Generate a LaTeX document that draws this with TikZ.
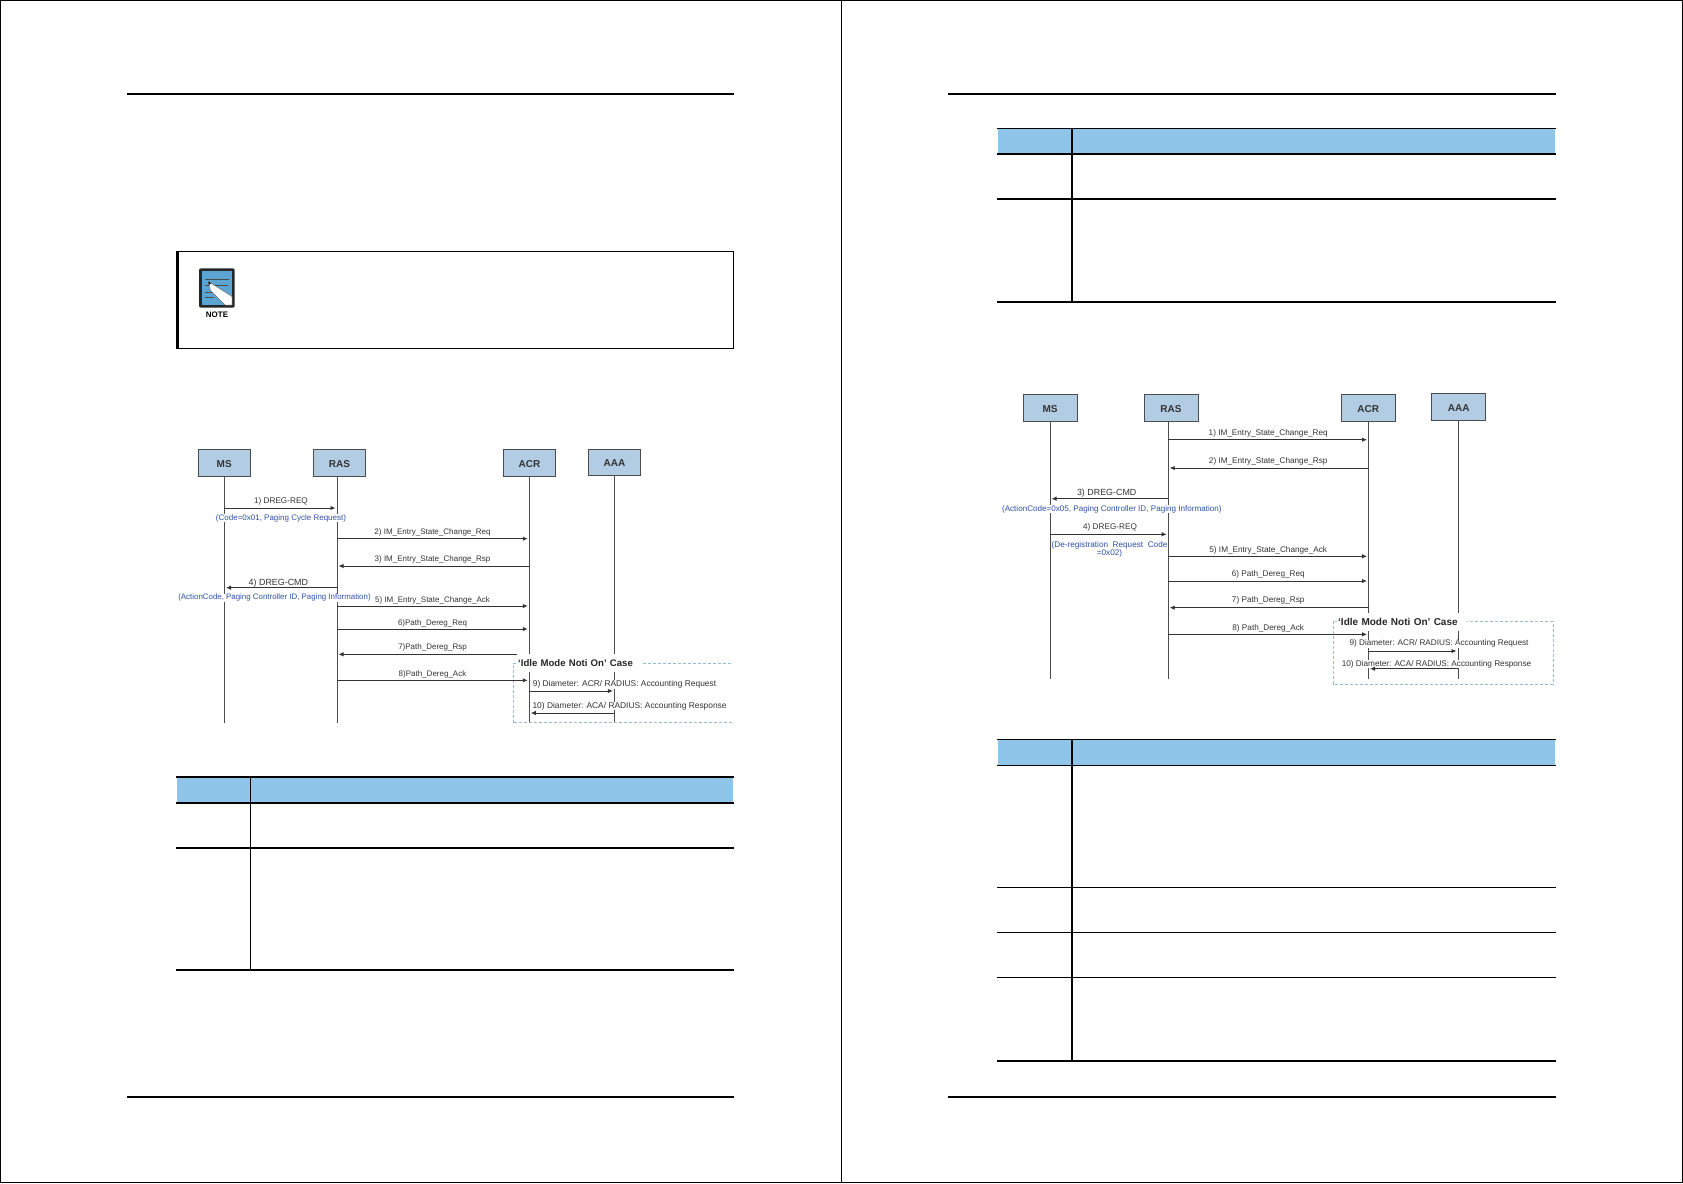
\documentclass[tikz,border=0pt]{standalone}
\usepackage{fontspec}
\setmainfont{Liberation Sans}
\usepackage{xcolor}
\usetikzlibrary{arrows.meta}
\definecolor{boxblue}{HTML}{B2CCE4}
\definecolor{headblue}{HTML}{90C5EA}
\definecolor{noteblue}{HTML}{5CA5D2}
\definecolor{infoblue}{HTML}{2F52A8}
\definecolor{dashblue}{HTML}{94BCD8}
\newcommand{\fs}[1]{\fontsize{#1}{#1}\selectfont}

\begin{document}
\begin{tikzpicture}[
  x=1pt, y=-1pt,
  actor/.style={draw=black!70, fill=boxblue, line width=1pt, minimum width=52pt,
    minimum height=26.5pt, inner sep=0pt, text height=8.6pt, text depth=0pt,
    font=\fs{10}\bfseries, text=black!80},
  life/.style={draw=black!70, line width=1pt},
  msg/.style={draw=black!80, line width=0.9pt, shorten >=1.5pt,
    -{Latex[length=5pt,width=4.5pt]}},
  lbl/.style={inner sep=0.3pt, yshift=-0.8pt, font=\fs{8.2}, text=black!80},
  lblsm/.style={inner sep=0.3pt, yshift=-0.8pt, font=\fs{8}, text=black!80},
  lblbig/.style={inner sep=0.3pt, yshift=-0.8pt, font=\fs{8.9}, text=black!80},
  lblbox/.style={fill=white, inner sep=0.3pt, yshift=-1pt, font=\fs{8.4}, text=black!80},
  info/.style={fill=white, inner sep=0.3pt, yshift=-1pt, font=\fs{8}, text=infoblue},
  casebox/.style={draw=dashblue, line width=0.9pt, densely dashed},
  casetitle/.style={fill=white, anchor=west, inner xsep=1pt, inner ysep=0pt,
    minimum height=18.5pt, text width=#1, font=\fs{9.6}\bfseries, text=black!85},
  rule/.style={line width=2pt},
  thinrule/.style={line width=1.1pt},
]
  \useasboundingbox (0,0) rectangle (1683,1183);

  % outer frame and the divider
  \draw[line width=1.4pt] (0.7,0.5) rectangle (1682.3,1182.5);
  \draw[line width=1.3pt] (841.7,0) -- (841.7,1183);

  % page rules
  \foreach \xa/\xb in {127/734, 948/1556} {
    \draw[rule] (\xa,93.7) -- (\xb,93.7);
    \draw[rule] (\xa,1096.7) -- (\xb,1096.7);
  }

  % ---- left page ----
  % note box
  \draw[thinrule] (178,251.5) rectangle (733.5,348.3);
  \fill (176,250.9) rectangle (178.8,348.9);
  % note icon
  \fill[black!85, rounded corners=2pt] (199,268.3) rectangle (234.7,307.7);
  \fill[noteblue] (201.7,271) rectangle (232,305);
  \draw[black!70, line width=0.6pt] (205,279.3) -- (229.3,279.3)
    (205,285.5) -- (228,285.5) (205,292) -- (212,292) (205,297) -- (214,297);
  \fill[white, draw=black!60, line width=0.4pt]
    (208.3,281.5) -- (232,296.5) -- (232,305) -- (225,305) -- (210.5,290.5) -- cycle;
  \fill[black] (208.3,281.5) -- (211,283.2) -- (209,285) -- cycle;
  \node[font=\fs{8}\bfseries] (notelbl) at (217,315) {NOTE};

  % sequence diagram, first figure
  \foreach \nm/\txt/\x/\y/\lx in {ms1/MS/224.2/463.2/224.5, ras1/RAS/339.5/463.2/337,
      acr1/ACR/529.5/463.2/529.3, aaa1/AAA/614.5/462.5/614.4} {
    \node[actor] (\nm) at (\x,\y) {\txt};
    \coordinate (l\nm) at (\lx,722.7);
    \draw[life] (\nm.south -| l\nm) -- (l\nm);
  }
  \draw[casebox] (513,722.7) -- (513,663) -- (732,663) (732,722.7) -- (513,722.7);
  \foreach \from/\to/\y/\lx/\ly/\sty/\txt [count=\i] in {
      lms1/lras1/508/281/501/lbl/{1) DREG-REQ},
      lras1/lacr1/538.7/432.5/531.7/lblsm/{2) IM\_Entry\_State\_Change\_Req},
      lacr1/lras1/566/432.5/558.3/lblsm/{3) IM\_Entry\_State\_Change\_Rsp},
      lras1/lms1/587.7/278.4/582/lblbig/{4) DREG-CMD},
      lras1/lacr1/606/432.5/599.3/lblsm/{5) IM\_Entry\_State\_Change\_Ack},
      lras1/lacr1/629/432.5/622.7/lblsm/{6)Path\_Dereg\_Req},
      lacr1/lras1/654.3/432.5/647/lblsm/{7)Path\_Dereg\_Rsp},
      lras1/lacr1/680.3/432.5/673.7/lblsm/{8)Path\_Dereg\_Ack}} {
    \draw[msg] (\from |- 0,\y) -- (\to |- 0,\y);
    \node[\sty] (lblA\i) at (\lx,\ly) {\txt};
  }
  \node[info] (infoA1) at (281,517) {(Code=0x01, Paging Cycle Request)};
  \node[info, font=\fs{7.9}] (infoA2) at (274.5,596.7) {(ActionCode, Paging Controller ID, Paging Information)};
  \node[casetitle=123pt] (titleA) at (517,663.2) {‘Idle Mode Noti On’ Case};
  \node[lblbox] (lblA9) at (624.5,683.3) {9) Diameter: ACR/ RADIUS: Accounting Request};
  \node[lblbox] (lblA10) at (629.6,705) {10) Diameter: ACA/ RADIUS: Accounting Response};
  \draw[msg] (lacr1 |- 0,691) -- (laaa1 |- 0,691);
  \draw[msg] (laaa1 |- 0,713) -- (lacr1 |- 0,713);

  % table under first figure
  \fill[headblue] (177,777) rectangle (733,803);
  \foreach \y in {776.7, 803, 848, 970} {
    \draw[rule] (176,\y) -- (734,\y);
  }
  \draw[line width=1.1pt] (250.3,776.7) -- (250.3,970);

  % ---- right page ----
  % table at top
  \fill[headblue] (998,128.3) rectangle (1555,153.7);
  \draw[thinrule] (997,128.3) -- (1556,128.3);
  \foreach \y in {153.7, 199, 302} {
    \draw[rule] (997,\y) -- (1556,\y);
  }
  \draw[line width=1.6pt] (1072,128.3) -- (1072,302);

  % sequence diagram, second figure
  \foreach \nm/\txt/\x/\y/\lx in {ms2/MS/1050/408/1050, ras2/RAS/1171/408/1168.2,
      acr2/ACR/1368.2/408/1368.5, aaa2/AAA/1458.7/407/1458} {
    \node[actor, minimum width=54pt] (\nm) at (\x,\y) {\txt};
    \coordinate (l\nm) at (\lx,678.7);
    \draw[life] (\nm.south -| l\nm) -- (l\nm);
  }
  \draw[casebox] (1333,621.3) rectangle (1553,684);
  \foreach \from/\to/\y/\lx/\ly/\sty/\txt [count=\i] in {
      lras2/lacr2/439.7/1268.2/433/lbl/{1) IM\_Entry\_State\_Change\_Req},
      lacr2/lras2/468/1268.2/460.3/lbl/{2) IM\_Entry\_State\_Change\_Rsp},
      lras2/lms2/498.7/1106.7/492.7/lblbig/{3) DREG-CMD},
      lms2/lras2/534.3/1110/527/lbl/{4) DREG-REQ},
      lras2/lacr2/556.3/1268.2/550/lbl/{5) IM\_Entry\_State\_Change\_Ack},
      lras2/lacr2/581/1268.2/574/lbl/{6) Path\_Dereg\_Req},
      lacr2/lras2/607.7/1268.2/599.7/lbl/{7) Path\_Dereg\_Rsp},
      lras2/lacr2/634.3/1268.2/627.7/lbl/{8) Path\_Dereg\_Ack}} {
    \draw[msg] (\from |- 0,\y) -- (\to |- 0,\y);
    \node[\sty] (lblB\i) at (\lx,\ly) {\txt};
  }
  \node[info, font=\fs{8.1}] (infoB1) at (1111.8,508.3) {(ActionCode=0x05, Paging Controller ID, Paging Information)};
  \node[info, font=\fs{8.2}, align=center] (infoB2) at (1109.5,548) {(De-registration\ \ Request\ \ Code\\=0x02)};
  \node[casetitle=128pt, font=\fs{10}\bfseries] (titleB) at (1337,622) {‘Idle Mode Noti On’ Case};
  \node[lblbox, font=\fs{8.2}] (lblB9) at (1439,642.7) {9) Diameter: ACR/ RADIUS: Accounting Request};
  \node[lblbox, font=\fs{8.2}] (lblB10) at (1436.5,662.9) {10) Diameter: ACA/ RADIUS: Accounting Response};
  \draw[msg] (lacr2 |- 0,651) -- (laaa2 |- 0,651);
  \draw[msg] (laaa2 |- 0,668.7) -- (lacr2 |- 0,668.7);

  % table under second figure
  \fill[headblue] (998,739.3) rectangle (1555,765.3);
  \foreach \y in {739.3, 765.3, 887.3, 932.3, 977.3} {
    \draw[thinrule] (997,\y) -- (1556,\y);
  }
  \draw[rule] (997,1061) -- (1556,1061);
  \draw[line width=1.6pt] (1072,739.3) -- (1072,1061);
\end{tikzpicture}
\end{document}
